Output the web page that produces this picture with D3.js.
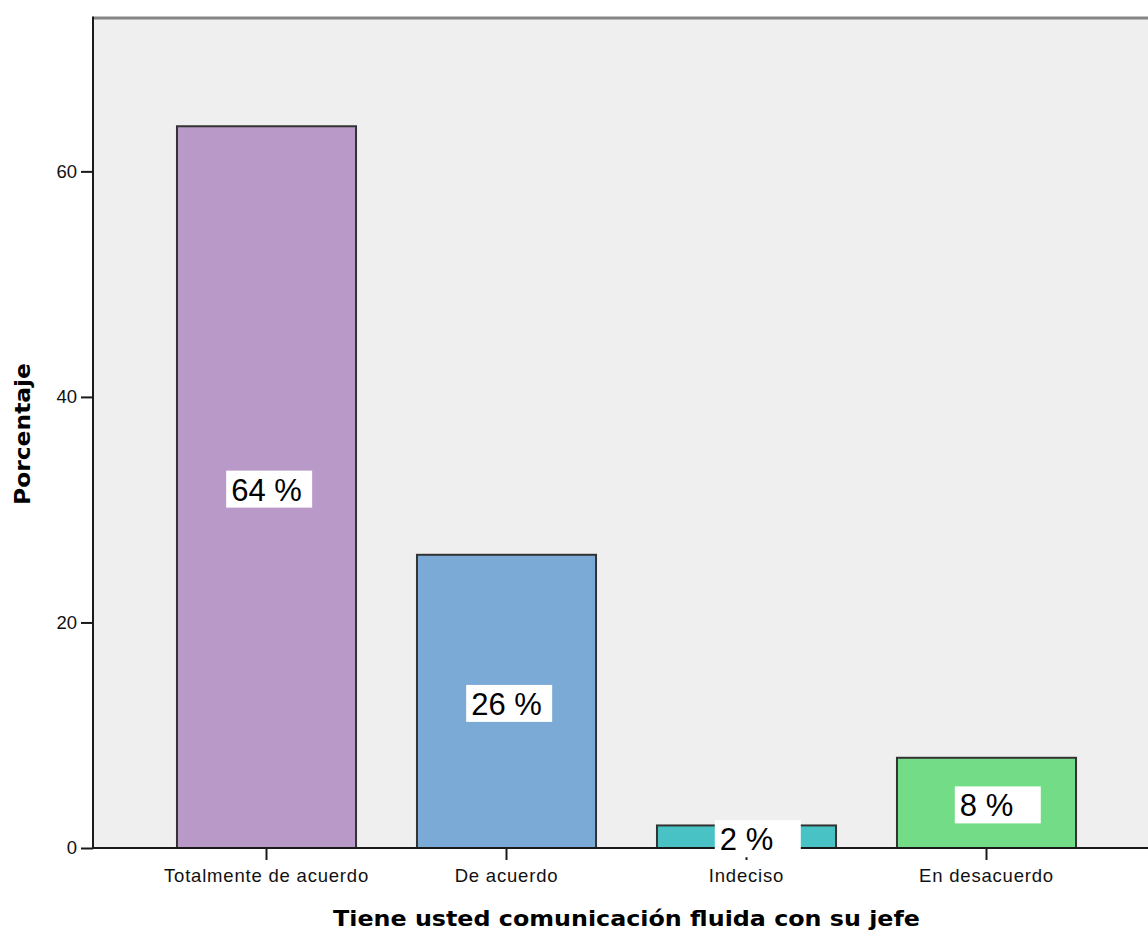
<!DOCTYPE html>
<html>
<head>
<meta charset="utf-8">
<script src="https://cdn.jsdelivr.net/npm/d3@7"></script>
<style>
  html, body { margin: 0; padding: 0; background: #ffffff; }
  svg { display: block; }
</style>
</head>
<body>
<svg id="chart" width="1148" height="933"></svg>
<script>
const categories = ["Totalmente de acuerdo", "De acuerdo", "Indeciso", "En desacuerdo"];
const values = [64, 26, 2, 8];
const valueLabels = ["64 %", "26 %", "2 %", "8 %"];
const barColors = ["#b899c8", "#7baad6", "#49c2c6", "#72dc87"];
const yTicks = [0, 20, 40, 60];
const xTitle = "Tiene usted comunicación fluida con su jefe";
const yTitle = "Porcentaje";

const svg = d3.select("#chart");
const plotLeft = 93, plotRight = 1160, plotTop = 18, plotBottom = 848;

const y = d3.scaleLinear().domain([0, 73.6]).range([plotBottom, plotTop]);
const x = d3.scaleBand().domain(categories)
  .range([146.5, 1106.5]).paddingInner(0.254).paddingOuter(0.127);

// plot background
svg.append("rect").attr("x", plotLeft).attr("y", plotTop)
  .attr("width", plotRight - plotLeft).attr("height", plotBottom - plotTop)
  .attr("fill", "#efefef");
// top border
svg.append("line").attr("x1", plotLeft).attr("x2", plotRight)
  .attr("y1", plotTop).attr("y2", plotTop)
  .attr("stroke", "#858585").attr("stroke-width", 3);

// bars
svg.selectAll("rect.bar").data(categories).join("rect")
  .attr("class", "bar")
  .attr("x", d => x(d))
  .attr("y", (d, i) => y(values[i]))
  .attr("width", x.bandwidth())
  .attr("height", (d, i) => y(0) - y(values[i]))
  .attr("fill", (d, i) => barColors[i])
  .attr("stroke", "#333333").attr("stroke-width", 2);

// y axis
const yAxis = svg.append("g").attr("transform", `translate(${plotLeft},0)`)
  .call(d3.axisLeft(y).tickValues(yTicks).tickSize(12).tickSizeOuter(0).tickPadding(4));
yAxis.select(".domain").attr("stroke", "#1a1a1a").attr("stroke-width", 2)
  .attr("d", `M0,${plotTop - 1.5}V${plotBottom}`);
yAxis.selectAll(".tick line").attr("stroke", "#1a1a1a").attr("stroke-width", 2);
yAxis.selectAll(".tick text").attr("font-family", "Liberation Sans, Arial, sans-serif")
  .attr("font-size", 18.5).attr("fill", "#111");

// x axis
const xAxis = svg.append("g").attr("transform", `translate(0,${plotBottom})`)
  .call(d3.axisBottom(x).tickSize(12).tickSizeOuter(0).tickPadding(6));
xAxis.select(".domain").attr("stroke", "#1a1a1a").attr("stroke-width", 2)
  .attr("d", `M${plotLeft},0H${plotRight}`);
xAxis.selectAll(".tick line").attr("stroke", "#1a1a1a").attr("stroke-width", 2);
xAxis.selectAll(".tick text").attr("font-family", "Liberation Sans, Arial, sans-serif")
  .attr("font-size", 18.5).attr("letter-spacing", "0.8px").attr("fill", "#111")
  .attr("dy", "0.85em");

// value label boxes (text centred on the bar, box padded from the text start)
const boxW = 86, boxH = 37, pad = 5;
const lbl = svg.selectAll("g.lbl").data(categories).join("g").attr("class", "lbl");
const lblRect = lbl.append("rect").attr("width", boxW).attr("height", boxH).attr("fill", "#ffffff");
const lblText = lbl.append("text").attr("x", pad).attr("y", 30)
  .attr("font-family", "Liberation Sans, Arial, sans-serif").attr("font-size", 31)
  .attr("fill", "#000").text((d, i) => valueLabels[i]);
lbl.attr("transform", function (d, i) {
  const tw = d3.select(this).select("text").node().getComputedTextLength();
  const cx = x(d) + x.bandwidth() / 2;
  const cy = (y(values[i]) + y(0)) / 2 + 2;
  return `translate(${cx - tw / 2 - pad},${cy - boxH / 2})`;
});

// axis titles
svg.append("text").attr("x", 626.5).attr("y", 926).attr("text-anchor", "middle")
  .attr("font-family", "DejaVu Sans, Verdana, sans-serif").attr("font-weight", "bold")
  .attr("font-size", 22).attr("textLength", 587).attr("lengthAdjust", "spacingAndGlyphs")
  .attr("fill", "#000").text(xTitle);
svg.append("text").attr("transform", "translate(30,434) rotate(-90)")
  .attr("text-anchor", "middle")
  .attr("font-family", "DejaVu Sans, Verdana, sans-serif").attr("font-weight", "bold")
  .attr("font-size", 22).attr("textLength", 142).attr("lengthAdjust", "spacingAndGlyphs")
  .attr("fill", "#000").text(yTitle);
</script>
</body>
</html>
